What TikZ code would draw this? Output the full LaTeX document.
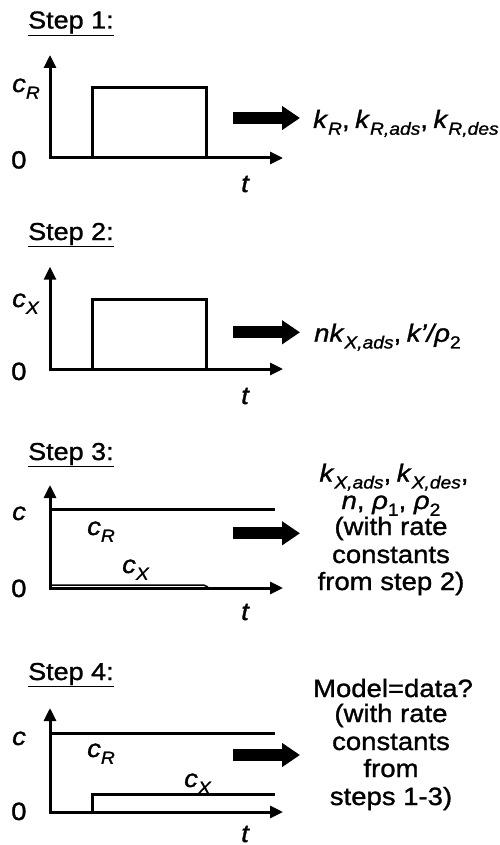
\documentclass[tikz,border=0pt]{standalone}
\usepackage{fontspec}
\setmainfont{Liberation Sans}[FakeStretch=1.1,FakeBold=1.2]
\usetikzlibrary{arrows.meta}
\newcommand\sbx[1]{\raisebox{-0.27em}{\fontsize{17.5}{17.5}\selectfont #1}}
\newcommand\kk[1]{\textit{k}\sbx{\textit{#1}}}
\newcommand\gap{\hspace{0.22em}}
\begin{document}
\begin{tikzpicture}[x=1pt,y=-1pt,
  txt/.style={inner sep=0pt,font=\fontsize{25}{28}\selectfont},
  lbl/.style={txt,anchor=base west},
  ctr/.style={txt,anchor=base},
  steplbl/.style={inner sep=0pt,anchor=base west,font=\fontsize{24.5}{28}\selectfont},
  axis/.style={line width=3pt,line join=miter,{Triangle[length=13pt,width=12pt]}-{Triangle[length=13pt,width=12pt]}},
  curve/.style={line width=3pt,line join=miter},
  bigarrow/.style={line width=12pt,-{Triangle[length=18pt,width=23pt]}}]
\useasboundingbox (0,0) rectangle (499,845);

% ---------- Step 1 ----------
\node[steplbl] (s1) at (28,28.5) {\underline{Step 1:}};
\coordinate (y1) at (50,55);
\coordinate (o1) at (50,158);
\coordinate (x1) at (283,158);
\draw[axis] (y1) -- (o1) -- (x1);
\draw[curve] (92,158) -- (92,88) -- (206,88) -- (206,158);
\node[lbl] (c1) at (12,92) {\textit{c}\sbx{\textit{R}}};
\node[lbl] (z1) at (11,168.5) {0};
\node[lbl] (t1) at (241,192) {\textit{t}};
\coordinate (a1s) at (233,118);
\coordinate (a1e) at (300,118);
\draw[bigarrow] (a1s) -- (a1e);
\node[lbl] (r1) at (313,128) {\kk{R},\gap\kk{R,ads},\gap\kk{R,des}};

% ---------- Step 2 ----------
\node[steplbl] (s2) at (28,240) {\underline{Step 2:}};
\coordinate (y2) at (50,266.7);
\coordinate (o2) at (50,369);
\coordinate (x2) at (283,369);
\draw[axis] (y2) -- (o2) -- (x2);
\draw[curve] (92,369) -- (92,299.3) -- (206,299.3) -- (206,369);
\node[lbl] (c2) at (12,307) {\textit{c}\sbx{\textit{X}}};
\node[lbl] (z2) at (11,380) {0};
\node[lbl] (t2) at (241,404) {\textit{t}};
\coordinate (a2s) at (233,332.3);
\coordinate (a2e) at (300,332.3);
\draw[bigarrow] (a2s) -- (a2e);
\node[lbl] (r2) at (314,341.7) {\textit{nk}\sbx{\textit{X,ads}},\gap\textit{k’/ρ}\sbx{2}};

% ---------- Step 3 ----------
\node[steplbl] (s3) at (28,460) {\underline{Step 3:}};
\coordinate (y3) at (50,485);
\coordinate (o3) at (50,588);
\coordinate (x3) at (283,588);
\draw[axis] (y3) -- (o3) -- (x3);
\draw[curve] (50,509) -- (275,509);
\draw[line width=1.5pt] (50,585.2) -- (204,585.2) -- (208,587);
\node[lbl] (c3) at (12,520) {\textit{c}};
\node[lbl] (cr3) at (87,535) {\textit{c}\sbx{\textit{R}}};
\node[lbl] (cx3) at (122,573) {\textit{c}\sbx{\textit{X}}};
\node[lbl] (z3) at (11,597) {0};
\node[lbl] (t3) at (241,620) {\textit{t}};
\coordinate (a3s) at (233,533.3);
\coordinate (a3e) at (300,533.3);
\draw[bigarrow] (a3s) -- (a3e);
\node[ctr] (r3a) at (394,481.7) {\kk{X,ads},\gap\kk{X,des},};
\node[ctr] (r3b) at (391,509) {\textit{n}, \textit{ρ}\sbx{1}, \textit{ρ}\sbx{2}};
\node[ctr] (r3c) at (391,535) {(with rate};
\node[ctr] (r3d) at (391,563) {constants};
\node[ctr] (r3e) at (391,590) {from step 2)};

% ---------- Step 4 ----------
\node[steplbl] (s4) at (28,680) {\underline{Step 4:}};
\coordinate (y4) at (50,708);
\coordinate (o4) at (50,812);
\coordinate (x4) at (283,812);
\draw[axis] (y4) -- (o4) -- (x4);
\draw[curve] (50,733) -- (275,733);
\draw[curve] (92,812) -- (92,794) -- (275,794);
\node[lbl] (c4) at (12,745) {\textit{c}};
\node[lbl] (cr4) at (87,757) {\textit{c}\sbx{\textit{R}}};
\node[lbl] (cx4) at (184,787) {\textit{c}\sbx{\textit{X}}};
\node[lbl] (z4) at (11,820) {0};
\node[lbl] (t4) at (241,842) {\textit{t}};
\coordinate (a4s) at (233,755);
\coordinate (a4e) at (300,755);
\draw[bigarrow] (a4s) -- (a4e);
\node[ctr] (r4a) at (393,697) {Model=data?};
\node[ctr] (r4b) at (391,722) {(with rate};
\node[ctr] (r4c) at (391,750) {constants};
\node[ctr] (r4d) at (391,777) {from};
\node[ctr] (r4e) at (391,805) {steps 1-3)};
\end{tikzpicture}
\end{document}
